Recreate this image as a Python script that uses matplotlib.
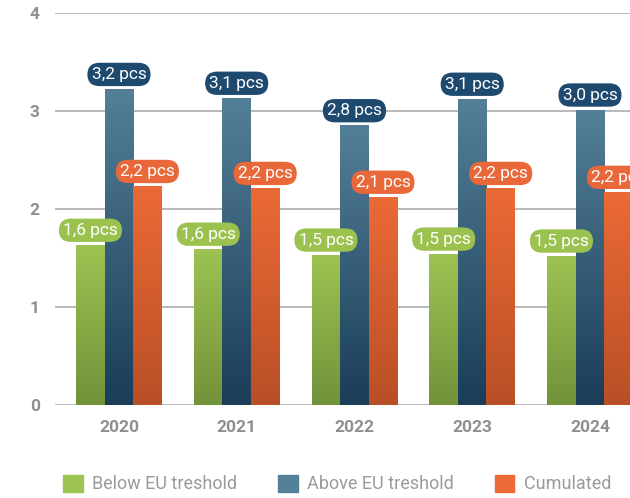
import numpy as np
import matplotlib.pyplot as plt
from matplotlib.colors import LinearSegmentedColormap
from matplotlib.patches import Patch

plt.rcParams['font.family'] = ['Roboto', 'DejaVu Sans']

years = ['2020', '2021', '2022', '2023', '2024']
below = [1.63, 1.59, 1.53, 1.54, 1.52]
above = [3.22, 3.13, 2.85, 3.12, 3.01]
cumulated = [2.23, 2.21, 2.12, 2.21, 2.17]
below_labels = ['1,6 pcs', '1,6 pcs', '1,5 pcs', '1,5 pcs', '1,5 pcs']
above_labels = ['3,2 pcs', '3,1 pcs', '2,8 pcs', '3,1 pcs', '3,0 pcs']
cum_labels = ['2,2 pcs', '2,2 pcs', '2,1 pcs', '2,2 pcs', '2,2 pcs']
series_names = ['Below EU treshold', 'Above EU treshold', 'Cumulated']

# (top colour, bottom colour, label box colour)
styles = [
    ('#9dc352', '#72923a', '#9bc24f'),
    ('#547f98', '#1a3d58', '#1f4a70'),
    ('#eb6a36', '#b94f26', '#e8683a'),
]

fig = plt.figure(figsize=(6.3, 4.98), dpi=100)
ax = fig.add_axes([55 / 630, 93 / 498, 575 / 630, 392 / 498])

x = np.arange(len(years))
w = 0.242
gradient = np.linspace(1, 0, 256).reshape(-1, 1)

for i, (vals, labels) in enumerate([(below, below_labels),
                                    (above, above_labels),
                                    (cumulated, cum_labels)]):
    top, bottom, boxc = styles[i]
    cmap = LinearSegmentedColormap.from_list(f'g{i}', [bottom, top])
    bars = ax.bar(x + (i - 1) * w, vals, width=w, color='none', zorder=3)
    for b, lab in zip(bars, labels):
        x0, h = b.get_x(), b.get_height()
        ax.imshow(gradient, extent=[x0, x0 + b.get_width(), 0, h],
                  cmap=cmap, aspect='auto', zorder=3, interpolation='bicubic')
        ax.annotate(lab, (x0 + b.get_width() / 2, h), xytext=(0, 15),
                    textcoords='offset pixels', ha='center', va='center',
                    color='white', fontsize=12.5, zorder=5,
                    bbox=dict(boxstyle='round,pad=0.24,rounding_size=0.7',
                              fc=boxc, ec='none'))

ax.set_xlim(-0.543, 4.34)
ax.set_ylim(0, 4)
ax.set_yticks([0, 1, 2, 3, 4])
ax.set_xticks(x)
ax.set_xticklabels(years)
ax.yaxis.grid(True, color='#b3b3b3', linewidth=1.3, zorder=0)
ax.set_axisbelow(True)
for s in ax.spines.values():
    s.set_visible(False)
ax.tick_params(axis='both', length=0, labelsize=12.5, labelcolor='#8f8f8f')
ax.tick_params(axis='y', pad=11)
ax.tick_params(axis='x', pad=11)
for t in ax.get_xticklabels() + ax.get_yticklabels():
    t.set_fontweight('bold')

handles = [Patch(color=s[0]) for s in styles]
fig.legend(handles, series_names, loc='center', bbox_to_anchor=(337 / 630, 14 / 498),
           ncol=3, frameon=False, fontsize=13, labelcolor='#9a9a9a',
           handlelength=1.1, handleheight=1.1, columnspacing=2.27, handletextpad=0.5)

fig.savefig('out.png', dpi=100)
